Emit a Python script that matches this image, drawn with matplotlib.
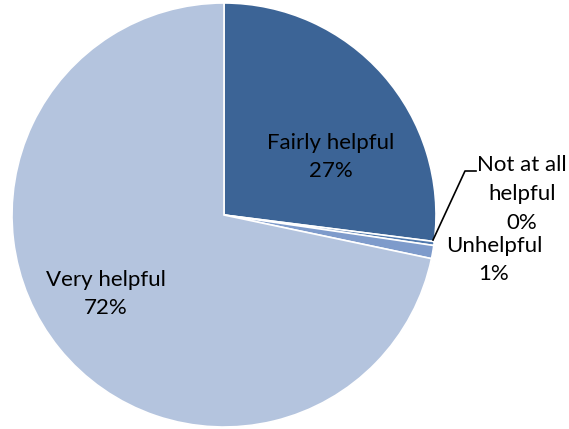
import matplotlib
matplotlib.use("Agg")
import matplotlib.pyplot as plt

plt.rcParams["font.family"] = ["Lato", "DejaVu Sans"]

labels = ["Fairly helpful", "Not at all\nhelpful", "Unhelpful", "Very helpful"]
shares = [27.0, 0.3, 1.0, 71.7]
pct_text = ["27%", "0%", "1%", "72%"]
colors = ["#3C6496", "#4F78AD", "#7E9BCB", "#B4C4DE"]

W, H = 569, 429
fig = plt.figure(figsize=(W / 100, H / 100), dpi=100)
ax = fig.add_axes([0, 0, 1, 1])

cx, cy, r = 224, H - 215, 212
ax.pie(shares, colors=colors, startangle=90, counterclock=False,
       center=(cx, cy), radius=r, frame=True,
       wedgeprops=dict(edgecolor="white", linewidth=1.2))
ax.set_xlim(0, W)
ax.set_ylim(0, H)
ax.set_aspect("equal")
ax.axis("off")

fs = 16
ls = 1.55
ax.text(331, H - 157, f"{labels[0]}\n{pct_text[0]}", ha="center", va="center",
        fontsize=fs, linespacing=ls)
ax.text(106, H - 294, f"{labels[3]}\n{pct_text[3]}", ha="center", va="center",
        fontsize=fs, linespacing=ls)
ax.text(522, H - 194, f"{labels[1]}\n{pct_text[1]}", ha="center", va="center",
        fontsize=fs, linespacing=ls)
ax.text(494, H - 260, f"{labels[2]}\n{pct_text[2]}", ha="center", va="center",
        fontsize=fs, linespacing=ls)

# leader line for the tiny slice
ax.plot([433, 465, 476], [H - 240, H - 171, H - 171], color="black", lw=1.2)

fig.savefig("out.png", dpi=100)
